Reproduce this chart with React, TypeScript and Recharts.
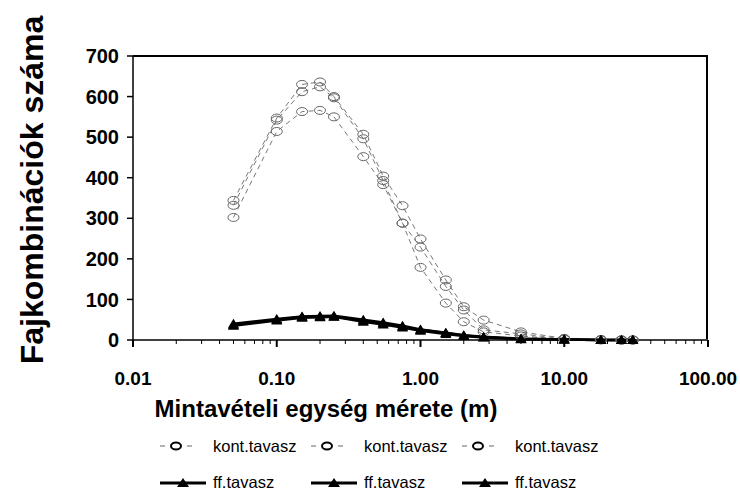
import { LineChart, Line, XAxis, YAxis, Legend } from 'recharts'

// sampling unit sizes (m)
const sizes = [0.05, 0.1, 0.15, 0.2, 0.25, 0.4, 0.55, 0.75, 1, 1.5, 2, 2.75, 5, 10, 18, 25, 30]

// number of species combinations
const kont1 = [344, 547, 630, 636, 600, 507, 404, 331, 249, 148, 82, 49, 20, 4, 1, 0, 0]
const kont2 = [332, 542, 612, 624, 597, 496, 393, 288, 229, 132, 74, 25, 15, 3, 1, 0, 0]
const kont3 = [302, 514, 563, 566, 550, 452, 383, 288, 179, 91, 45, 20, 10, 2, 0, 0, 0]
const ff1 = [40, 52, 58, 59, 60, 50, 43, 35, 26, 18, 12, 8, 3, 1, 0, 0, 0]
const ff2 = [37, 50, 57, 58, 58, 48, 41, 33, 25, 17, 11, 7, 3, 1, 0, 0, 0]
const ff3 = [35, 48, 55, 56, 57, 45, 38, 31, 23, 15, 10, 6, 2, 1, 0, 0, 0]

const kontNames = ['kont.tavasz', 'kont.tavasz', 'kont.tavasz']
const ffNames = ['ff.tavasz', 'ff.tavasz', 'ff.tavasz']

const majorTicks = [0.01, 0.1, 1, 10, 100]
const minorSteps = [2, 3, 4, 5, 6, 7, 8, 9]
const yTicks = [0, 100, 200, 300, 400, 500, 600, 700]

const xTicks = [
  ...majorTicks,
  ...majorTicks.slice(0, -1).flatMap((d) => minorSteps.map((m) => d * m)),
].sort((a, b) => a - b)

const data = sizes.map((x, i) => ({
  x,
  k1: kont1[i],
  k2: kont2[i],
  k3: kont3[i],
  f1: ff1[i],
  f2: ff2[i],
  f3: ff3[i],
}))

const FONT = '"Liberation Sans", Arial, sans-serif'

// chart layout
const W = 740
const H = 492
const MARGIN = { top: 56, right: 32, left: 0, bottom: 0 }
const Y_AXIS_W = 133
const X_AXIS_H = 152
const PLOT_W = W - Y_AXIS_W - MARGIN.right
const PLOT_H = H - MARGIN.top - X_AXIS_H

const isMajor = (v: number) => majorTicks.some((m) => Math.abs(m - v) / m < 1e-6)

const XTick = (props: any) => {
  const { x, y, payload } = props
  const v = payload.value
  const major = isMajor(v)
  return (
    <g>
      <line x1={x} y1={y} x2={x} y2={y + (major ? 7 : 4)} stroke="#000" strokeWidth={major ? 2 : 1} />
      {major && (
        <text x={x} y={y + 45} textAnchor="middle" fontFamily={FONT} fontWeight="bold" fontSize={19} fill="#000">
          {v.toFixed(2)}
        </text>
      )}
    </g>
  )
}

const circleDot = (props: any) => {
  const { cx, cy, index } = props
  if (cx == null || cy == null) return <g key={index} />
  return <ellipse key={index} cx={cx} cy={cy} rx={5.5} ry={4} fill="none" stroke="#666" strokeWidth={1} />
}

const triangleDot = (props: any) => {
  const { cx, cy, index } = props
  if (cx == null || cy == null) return <g key={index} />
  return <path key={index} d={`M${cx - 5.5},${cy + 4} L${cx + 5.5},${cy + 4} L${cx},${cy - 5} Z`} fill="#000" />
}

const LegendContent = () => (
  <svg width={W} height={66} style={{ display: 'block' }}>
    {kontNames.map((n, i) => {
      const x0 = 160 + i * 151
      return (
        <g key={'k' + i}>
          <line x1={x0} y1={21} x2={x0 + 5} y2={21} stroke="#666" strokeWidth={1} />
          <ellipse cx={x0 + 16} cy={21} rx={5} ry={3.5} fill="none" stroke="#000" strokeWidth={2} />
          <line x1={x0 + 27} y1={21} x2={x0 + 32} y2={21} stroke="#666" strokeWidth={1} />
          <text x={x0 + 53} y={27} fontFamily={FONT} fontSize={16.5} fill="#000">
            {n}
          </text>
        </g>
      )
    })}
    {ffNames.map((n, i) => {
      const x0 = 160 + i * 151
      return (
        <g key={'f' + i}>
          <line x1={x0} y1={58} x2={x0 + 46} y2={58} stroke="#000" strokeWidth={3} />
          <path d={`M${x0 + 17},${62} L${x0 + 29},${62} L${x0 + 23},${53} Z`} fill="#000" />
          <text x={x0 + 53} y={63} fontFamily={FONT} fontSize={16.5} fill="#000">
            {n}
          </text>
        </g>
      )
    })}
  </svg>
)

export default function App() {
  return (
    <div style={{ position: 'absolute', left: 0, top: 0, width: W, height: H, background: '#fff' }}>
      <LineChart width={W} height={H} data={data} margin={MARGIN}>
        <XAxis
          dataKey="x"
          type="number"
          scale="log"
          domain={[0.01, 100]}
          ticks={xTicks}
          interval={0}
          allowDataOverflow
          height={X_AXIS_H}
          tickSize={0}
          tickMargin={0}
          tickLine={false}
          axisLine={{ stroke: '#000', strokeWidth: 1.5 }}
          tick={<XTick />}
          label={{
            content: () => (
              <text x={326} y={417} textAnchor="middle" fontFamily={FONT} fontWeight="bold" fontSize={24} fill="#000">
                Mintavételi egység mérete (m)
              </text>
            ),
          }}
        />
        <YAxis
          type="number"
          domain={[0, 700]}
          ticks={yTicks}
          interval={0}
          width={Y_AXIS_W}
          tickSize={6}
          tickMargin={8}
          axisLine={{ stroke: '#000', strokeWidth: 1.5 }}
          tickLine={{ stroke: '#000', strokeWidth: 1.5 }}
          tick={{ fontFamily: FONT, fontWeight: 'bold', fontSize: 20, fill: '#000' }}
          label={{
            content: () => (
              <text
                x={43}
                y={190}
                transform="rotate(-90 43 190)"
                textAnchor="middle"
                fontFamily={FONT}
                fontWeight="bold"
                fontSize={32}
                fill="#000"
              >
                Fajkombinációk száma
              </text>
            ),
          }}
        />
        <Legend
          verticalAlign="middle"
          align="center"
          content={<LegendContent />}
          wrapperStyle={{ top: 425, left: 0, width: W, height: 66 }}
        />
        {['k1', 'k2', 'k3'].map((k, i) => (
          <Line
            key={k}
            dataKey={k}
            name={kontNames[i]}
            stroke="#777"
            strokeWidth={1}
            strokeDasharray="5 4"
            dot={circleDot}
            isAnimationActive={false}
          />
        ))}
        {['f1', 'f2', 'f3'].map((k, i) => (
          <Line
            key={k}
            dataKey={k}
            name={ffNames[i]}
            stroke="#000"
            strokeWidth={2.5}
            dot={triangleDot}
            isAnimationActive={false}
          />
        ))}
      </LineChart>
      {/* plot frame: top and right edges */}
      <div
        style={{
          position: 'absolute',
          left: Y_AXIS_W,
          top: MARGIN.top - 1,
          width: PLOT_W,
          height: PLOT_H,
          borderTop: '2px solid #000',
          borderRight: '2px solid #000',
          boxSizing: 'border-box',
          pointerEvents: 'none',
        }}
      />
    </div>
  )
}
